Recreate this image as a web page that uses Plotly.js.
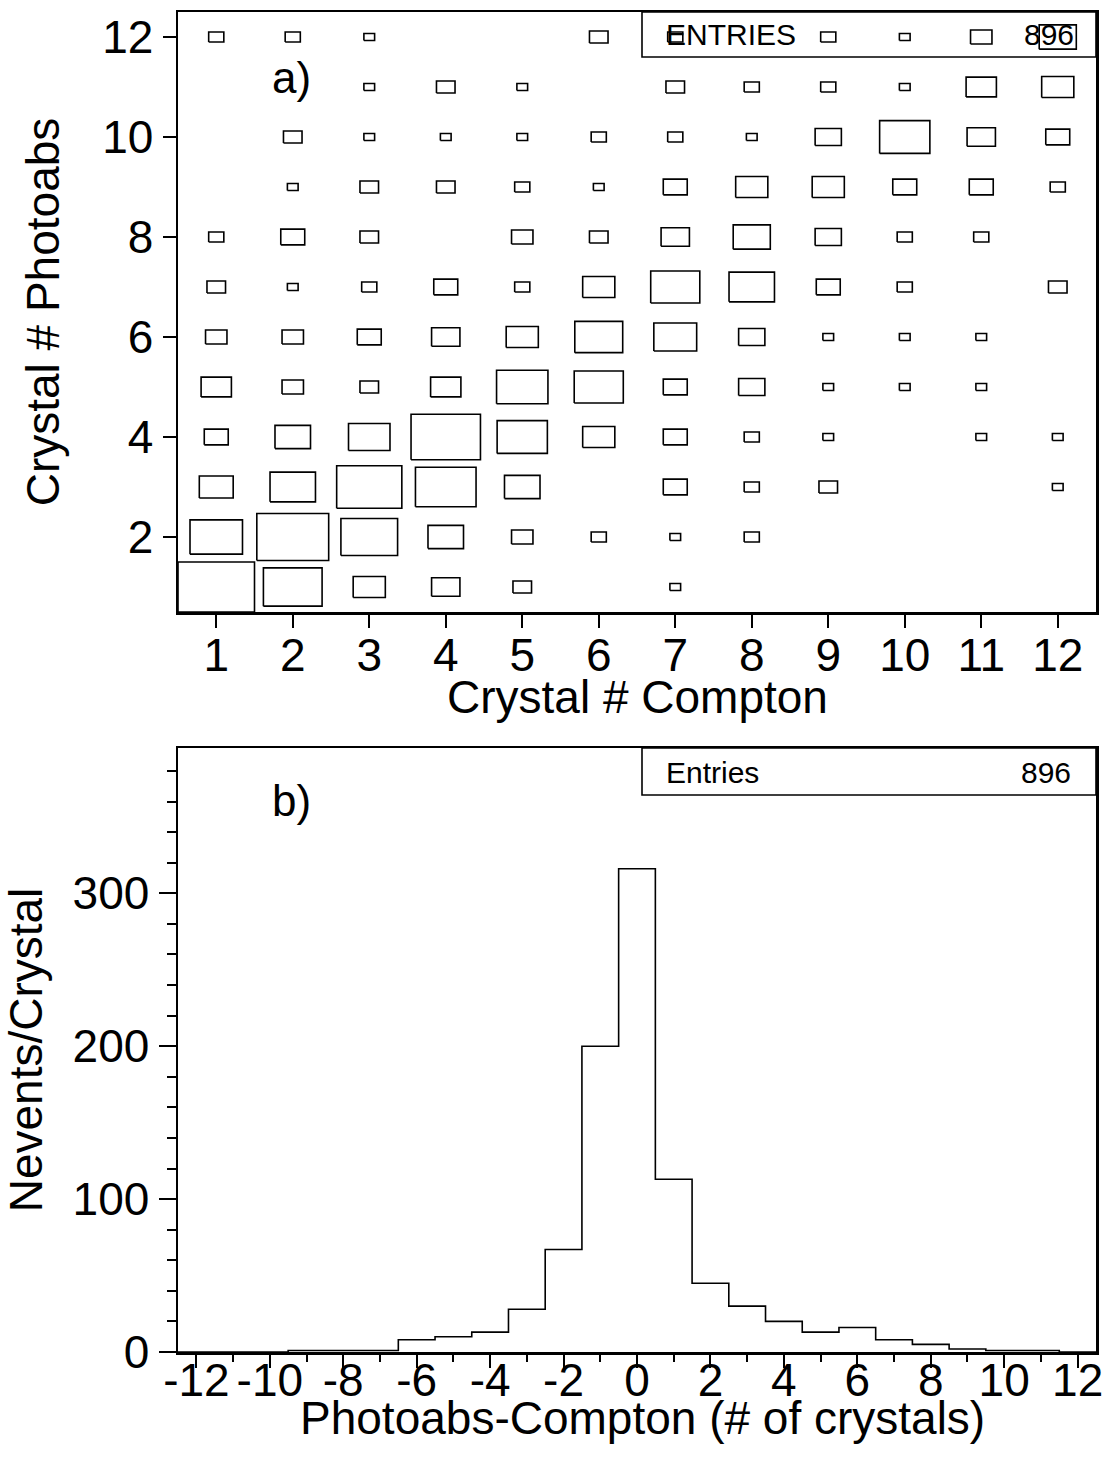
<!DOCTYPE html>
<html><head><meta charset="utf-8">
<script src="https://cdn.plot.ly/plotly-3.0.1.min.js"></script>
<style>html,body{margin:0;padding:0;background:#fff}#chart{width:1105px;height:1462px}</style>
</head><body><div id="chart"></div>
<script>
// ---- data ----
const comptonBins = [1,2,3,4,5,6,7,8,9,10,11,12];
const photoBins   = [1,2,3,4,5,6,7,8,9,10,11,12];
// counts2D[row = photoabs crystal - 1][col = compton crystal - 1]
const counts2D = [
  [51,30, 9, 7, 3, 0, 1, 0, 0, 0, 0, 0],
  [24,45,28,11, 4, 2, 1, 2, 0, 0, 0, 0],
  [10,18,37,32,11, 0, 5, 2, 3, 0, 0, 1],
  [ 5,11,15,42,22, 9, 5, 2, 1, 0, 1, 1],
  [ 8, 4, 3, 8,23,21, 5, 6, 1, 1, 1, 0],
  [ 4, 4, 5, 7, 9,20,16, 6, 1, 1, 1, 0],
  [ 3, 1, 2, 5, 2, 9,21,18, 5, 2, 0, 3],
  [ 2, 5, 3, 0, 4, 3, 7,12, 6, 2, 2, 0],
  [ 0, 1, 3, 3, 2, 1, 5, 9, 9, 5, 5, 2],
  [ 0, 3, 1, 1, 1, 2, 2, 1, 6,22, 7, 5],
  [ 0, 0, 1, 3, 1, 0, 3, 2, 2, 1, 8, 9],
  [ 2, 2, 1, 0, 0, 3, 2, 0, 2, 1, 4,12]
];
const diffBins = [-12,-11,-10,-9,-8,-7,-6,-5,-4,-3,-2,-1,0,1,2,3,4,5,6,7,8,9,10,11,12];
const diffCounts = [0,0,0,1,1,1,8,10,13,28,67,200,316,113,45,30,20,13,16,8,5,2,1,1,0];
const nEntries = 896;
const topTicks = [1,2,3,4,5,6,7,8,9,10,11,12];
const leftTicksTop = [2,4,6,8,10,12];
const bottomTicks = [-12,-10,-8,-6,-4,-2,0,2,4,6,8,10,12];
const bottomTickText = ['-12','-10','-8','-6','-4','-2','0','2','4','6','8','10','12'];

// ---- build box outlines (box area proportional to content) ----
let cmax = 0;
counts2D.forEach(r => r.forEach(v => { if (v > cmax) cmax = v; }));
const bx = [], by = [];
photoBins.forEach((py, i) => {
  comptonBins.forEach((px, j) => {
    const c = counts2D[i][j];
    if (c <= 0) return;
    const h = 0.5 * Math.sqrt(c / cmax);
    bx.push(px - h, px + h, px + h, px - h, px - h, null);
    by.push(py - h, py - h, py + h, py + h, py - h, null);
  });
});

// ---- histogram step ----
const hx = [], hy = [];
diffBins.forEach((b, k) => { hx.push(b - 0.5); hy.push(diffCounts[k]); });
hx.push(diffBins[diffBins.length - 1] + 0.5); hy.push(diffCounts[diffCounts.length - 1]);

const FONT = '"Liberation Sans", Arial, Helvetica, sans-serif';
const W = 1105, H = 1462;
const px = v => v / W, py = v => 1 - v / H;
const FS = 46;

const traces = [
  {type: 'scatter', mode: 'lines', x: bx, y: by, xaxis: 'x', yaxis: 'y',
   line: {color: '#000', width: 1.6}, hoverinfo: 'skip', showlegend: false},
  {type: 'scatter', mode: 'lines', x: hx, y: hy, xaxis: 'x2', yaxis: 'y2',
   line: {color: '#000', width: 1.6, shape: 'hv'}, showlegend: false}
];

const axBase = {
  showgrid: false, zeroline: false, showline: true, mirror: true,
  linecolor: '#000', linewidth: 2.5, ticks: 'outside', tickcolor: '#000',
  tickwidth: 2, tickfont: {family: FONT, size: FS, color: '#000'}
};
const tfont = {family: FONT, size: FS, color: '#000'};

const layout = {
  width: W, height: H,
  margin: {l: 0, r: 0, t: 0, b: 0},
  paper_bgcolor: '#fff', plot_bgcolor: '#fff',
  font: {family: FONT, color: '#000'},
  showlegend: false,
  xaxis: Object.assign({}, axBase, {
    domain: [px(178), px(1096)], anchor: 'y', range: [0.5, 12.5],
    tickmode: 'array', tickvals: topTicks, ticklen: 13, tickangle: 0,
    ticklabelstandoff: -12
  }),
  yaxis: Object.assign({}, axBase, {
    domain: [py(612), py(12)], anchor: 'x', range: [0.5, 12.5],
    tickmode: 'array', tickvals: leftTicksTop, ticklen: 13,
    title: {text: 'Crystal # Photoabs', font: tfont, standoff: 28}
  }),
  xaxis2: Object.assign({}, axBase, {
    domain: [px(178), px(1096)], anchor: 'y2', range: [-12.5, 12.5],
    tickmode: 'array', tickvals: bottomTicks, ticktext: bottomTickText, ticklen: 13, tickangle: 0,
    ticklabelstandoff: -27,
    minor: {dtick: 1, ticklen: 7, tickwidth: 2, tickcolor: '#000', ticks: 'outside'}
  }),
  yaxis2: Object.assign({}, axBase, {
    domain: [py(1352), py(748)], anchor: 'x2', range: [0, 395],
    dtick: 100, tick0: 0, ticklen: 17,
    minor: {dtick: 20, ticklen: 9, tickwidth: 2, tickcolor: '#000', ticks: 'outside'},
    title: {text: 'Nevents/Crystal', font: tfont, standoff: 16}
  }),
  shapes: [
    {type: 'rect', xref: 'paper', yref: 'paper', x0: px(642), x1: px(1096), y0: py(57), y1: py(12),
     line: {color: '#000', width: 1.6}, fillcolor: '#fff', layer: 'below'},
    {type: 'rect', xref: 'paper', yref: 'paper', x0: px(642), x1: px(1096), y0: py(795), y1: py(748),
     line: {color: '#000', width: 1.6}, fillcolor: '#fff', layer: 'below'}
  ],
  annotations: [
    // x-axis titles
    {xref: 'paper', yref: 'paper', x: px(637), y: py(697), xanchor: 'center', yanchor: 'middle',
     text: 'Crystal # Compton', showarrow: false, font: tfont},
    {xref: 'paper', yref: 'paper', x: px(642), y: py(1418), xanchor: 'center', yanchor: 'middle',
     text: 'Photoabs-Compton (# of crystals)', showarrow: false, font: tfont},
    // panel labels and stat boxes
    {xref: 'paper', yref: 'paper', x: px(270), y: py(78), xanchor: 'left', yanchor: 'middle',
     text: 'a)', showarrow: false, font: {family: FONT, size: 44, color: '#000'}},
    {xref: 'paper', yref: 'paper', x: px(664), y: py(35), xanchor: 'left', yanchor: 'middle',
     text: 'ENTRIES', showarrow: false, font: {family: FONT, size: 30, color: '#000'}},
    {xref: 'paper', yref: 'paper', x: px(1076), y: py(35), xanchor: 'right', yanchor: 'middle',
     text: String(nEntries), showarrow: false, font: {family: FONT, size: 30, color: '#000'}},
    {xref: 'paper', yref: 'paper', x: px(270), y: py(800), xanchor: 'left', yanchor: 'middle',
     text: 'b)', showarrow: false, font: {family: FONT, size: 44, color: '#000'}},
    {xref: 'paper', yref: 'paper', x: px(664), y: py(772), xanchor: 'left', yanchor: 'middle',
     text: 'Entries', showarrow: false, font: {family: FONT, size: 30, color: '#000'}},
    {xref: 'paper', yref: 'paper', x: px(1073), y: py(772), xanchor: 'right', yanchor: 'middle',
     text: String(nEntries), showarrow: false, font: {family: FONT, size: 30, color: '#000'}}
  ]
};

Plotly.newPlot('chart', traces, layout, {staticPlot: true, displayModeBar: false});
</script>
</body></html>
